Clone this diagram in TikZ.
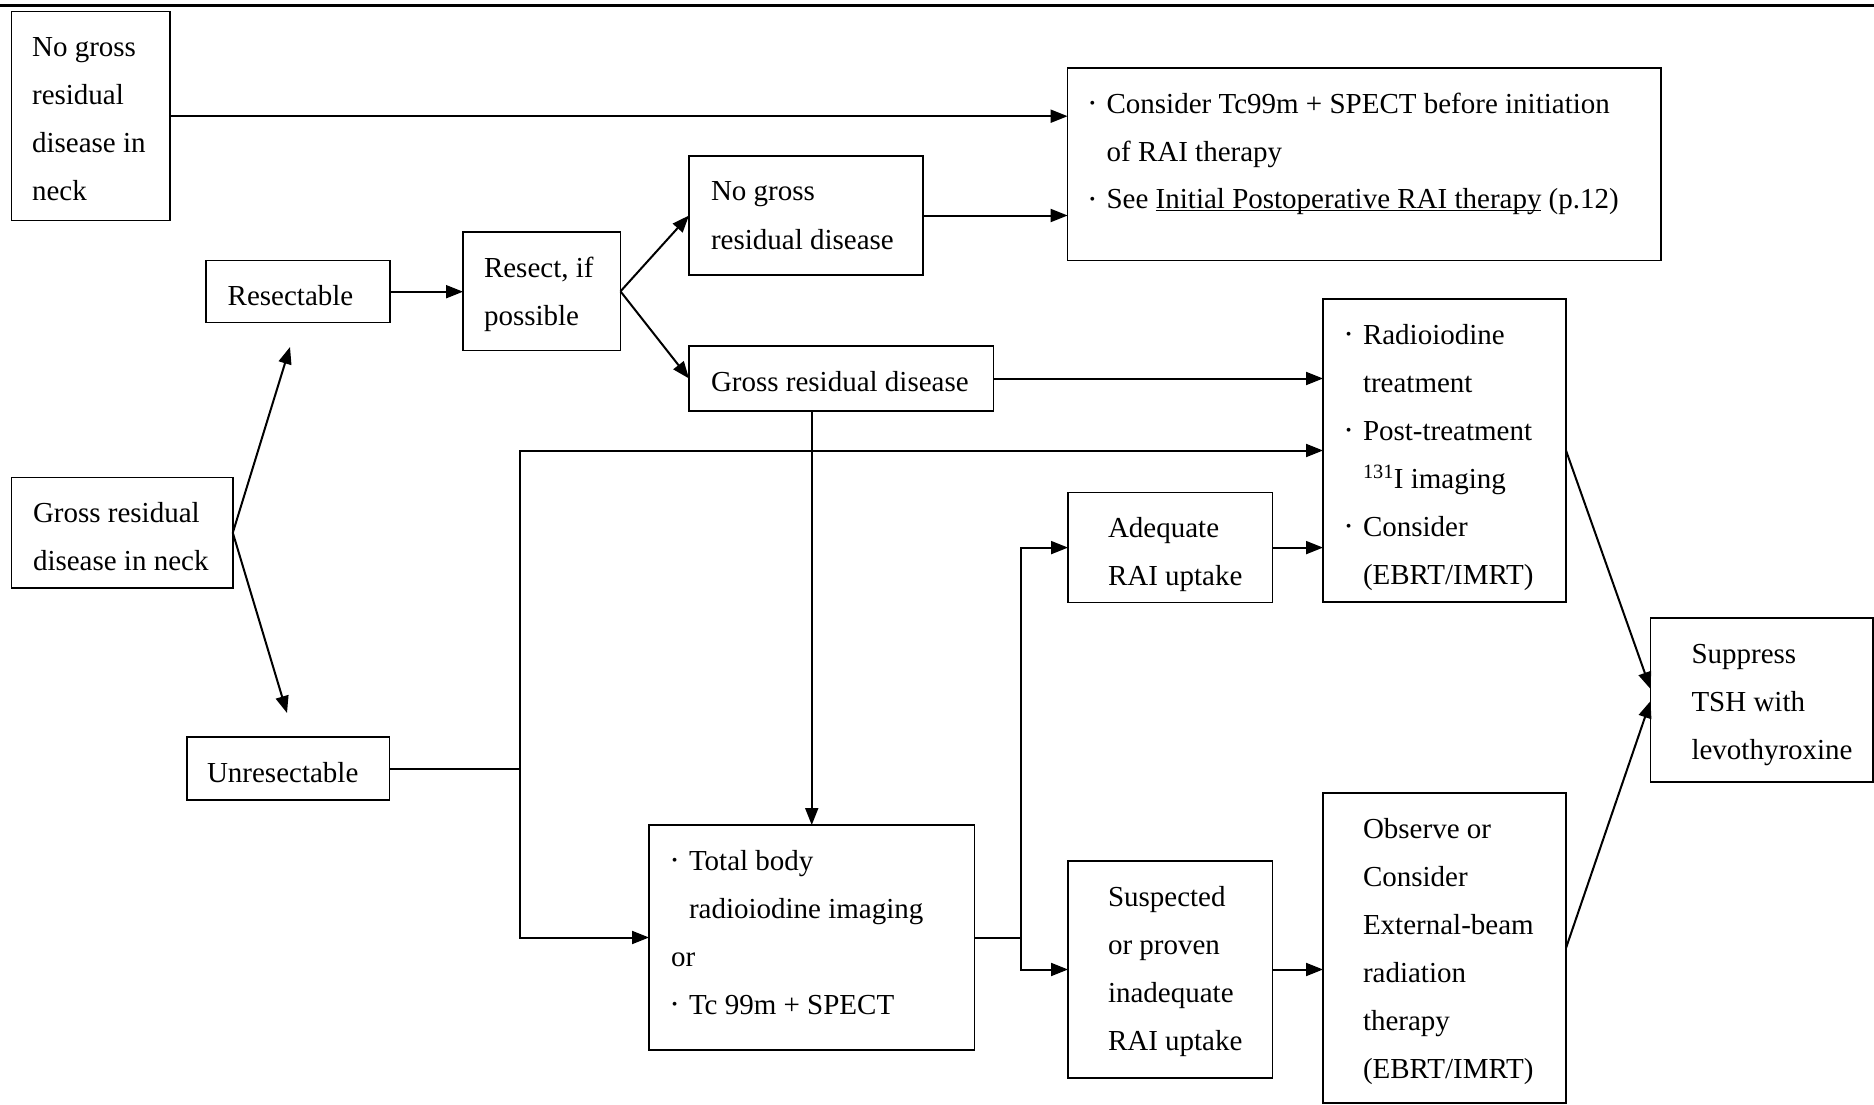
\documentclass[tikz,border=0pt]{standalone}
\usepackage{fontspec}
\setmainfont{Liberation Serif}
\usetikzlibrary{arrows.meta,calc}
\newcommand\bt[4]{\parbox[c][#2pt][t]{#1pt}{\setlength\leftskip{#3pt}\setlength\rightskip{0pt plus 1fil}\setlength\parfillskip{0pt plus 1fil}\leavevmode\rule{0pt}{45pt}#4}}
\newcommand\bul{\llap{\raisebox{4.8pt}{\fontsize{16}{16}\selectfont •}\hspace{11.5pt}}}
\begin{document}
\begin{tikzpicture}[x=1pt,y=-1pt,
  bx/.style={draw, line width=1.4pt, inner sep=0pt, outer sep=0pt, anchor=north west, font=\fontsize{29}{48}\selectfont},
  arr/.style={line width=2pt, -{Triangle[length=17pt,width=13pt]}},
  ln/.style={line width=2pt}]
\useasboundingbox (0,0) rectangle (1874,1105);
\draw[line width=2.5pt] (0,5.7) -- (1874,5.7);
\node[bx] (b1) at (11.6,11.7) {\bt{158.4}{209}{20.5}{No gross\\residual\\disease in\\neck}};
\node[bx] (res) at (206,260.7) {\bt{184}{62}{21.7}{Resectable}};
\node[bx] (rsp) at (463,232) {\bt{157.5}{118.7}{21}{Resect, if\\possible}};
\node[bx] (nogr) at (689,156) {\bt{234}{119}{22}{No gross\\residual disease}};
\node[bx] (gross) at (689,346) {\bt{304.5}{65}{22}{Gross residual disease}};
\node[bx] (cons) at (1067.6,68) {\bt{593.4}{192.7}{39}{\bul Consider Tc99m + SPECT before initiation\\of RAI therapy\\\bul See \underline{\smash{Initial Postoperative RAI therapy}} (p.12)}};
\node[bx] (radio) at (1323,299) {\bt{243}{303}{40}{\bul Radioiodine\\treatment\\\bul Post-treatment\\\textsuperscript{131}I imaging\\\bul Consider\\(EBRT/IMRT)}};
\node[bx] (gneck) at (11.5,477.5) {\bt{221.3}{110.5}{21.5}{Gross residual\\disease in neck}};
\node[bx] (unres) at (187,737) {\bt{202.7}{63}{20}{Unresectable}};
\node[bx] (total) at (649,825) {\bt{325.5}{225}{40}{\bul Total body\\radioiodine imaging\\\hspace*{-18pt}or\\\bul Tc 99m + SPECT}};
\node[bx] (adeq) at (1068,492.6) {\bt{204.5}{110}{40}{Adequate\\RAI uptake}};
\node[bx] (susp) at (1068,861) {\bt{204.5}{217}{40}{Suspected\\or proven\\inadequate\\RAI uptake}};
\node[bx] (obs) at (1323,793) {\bt{243}{310}{40}{Observe or\\Consider\\External-beam\\radiation\\therapy\\(EBRT/IMRT)}};
\node[bx] (sup) at (1650.5,618) {\bt{222.5}{164}{41}{Suppress\\TSH with\\levothyroxine}};
% connectors
\draw[arr] (b1.east) -- (b1.east -| cons.west);
\draw[arr] (nogr.east) -- (nogr.east -| cons.west);
\draw[arr] (res.east) -- (res.east -| rsp.west);
\draw[arr] (rsp.east) -- (nogr.west);
\draw[arr] (rsp.east) -- (gross.west);
\coordinate (rtip) at (290,347);
\coordinate (utip) at (287,713);
\draw[arr] (gneck.east) -- (rtip);
\draw[arr] (gneck.east) -- (utip);
\path (unres.east) ++(130.3,0) coordinate (j1);
\draw[ln] (unres.east) -- (j1);
\draw[arr] (j1) |- (radio.west);
\draw[arr] (j1) |- (total.west);
\draw[arr] (gross.south -| total.north) -- (total.north);
\draw[arr] (gross.east) -- (gross.east -| radio.west);
\path (total.east) ++(46.5,0) coordinate (j2);
\draw[ln] (total.east) -- (j2);
\draw[arr] (j2) |- (adeq.west);
\draw[arr] (j2) |- (susp.west);
\draw[arr] (adeq.east) -- (adeq.east -| radio.west);
\draw[arr] (susp.east) -- (susp.east -| obs.west);
\draw[arr] (radio.east) -- ($(sup.west)+(0,-11)$);
\draw[arr] (obs.east) -- ($(sup.west)+(0,1)$);
\end{tikzpicture}
\end{document}
